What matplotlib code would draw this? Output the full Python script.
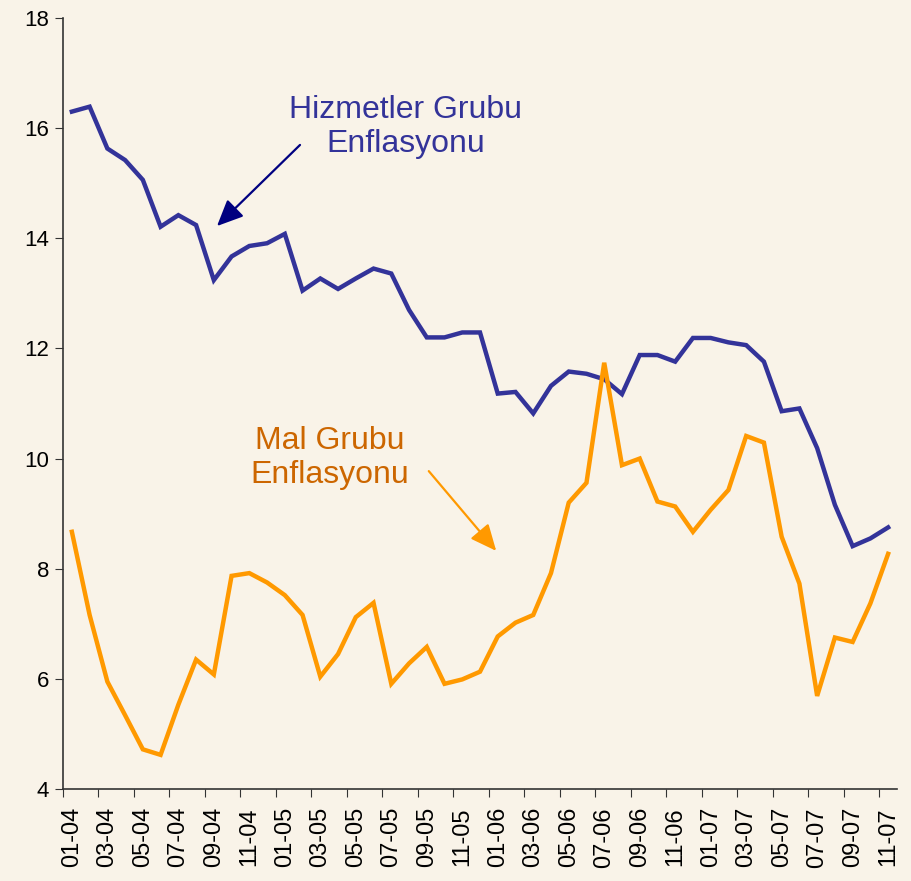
import matplotlib
matplotlib.use("Agg")
import matplotlib.pyplot as plt
import numpy as np

plt.rcParams['font.family'] = ['Liberation Sans', 'DejaVu Sans']

months = [f"{m:02d}-{y:02d}" for y in (4, 5, 6, 7) for m in range(1, 13)][:47]

hizmet = [16.30, 16.39, 15.63, 15.42, 15.06, 14.21, 14.42, 14.24, 13.24, 13.67,
          13.86, 13.91, 14.08, 13.05, 13.27, 13.08, 13.27, 13.45, 13.36, 12.70,
          12.20, 12.20, 12.29, 12.29, 11.18, 11.21, 10.82, 11.32, 11.58, 11.54,
          11.44, 11.17, 11.88, 11.88, 11.76, 12.19, 12.19, 12.11, 12.06, 11.76,
          10.86, 10.91, 10.19, 9.16, 8.41, 8.55, 8.75]

mal = [8.67, 7.16, 5.95, 5.34, 4.72, 4.62, 5.53, 6.35, 6.08, 7.87,
       7.92, 7.75, 7.52, 7.16, 6.04, 6.45, 7.12, 7.38, 5.91, 6.28,
       6.58, 5.91, 5.99, 6.13, 6.77, 7.02, 7.16, 7.92, 9.20, 9.56,
       11.74, 9.88, 10.00, 9.22, 9.13, 8.67, 9.07, 9.43, 10.41, 10.29,
       8.58, 7.73, 5.69, 6.75, 6.67, 7.37, 8.27]

yticks = [4, 6, 8, 10, 12, 14, 16, 18]

bg = '#F9F3E8'
fig = plt.figure(figsize=(9.12, 8.81), dpi=100, facecolor=bg)
ax = fig.add_axes([63/912, 1-789/881, (897-63)/912, (789-18)/881])
ax.set_facecolor(bg)

x = np.arange(len(months))
ax.plot(x, hizmet, color='#333399', lw=3.2, solid_joinstyle='miter')
ax.plot(x, mal, color='#FF9900', lw=3.2, solid_joinstyle='miter')

ax.set_xlim(-0.5, len(months) - 0.5)
ax.set_ylim(4, 18)
ax.set_yticks(yticks)
ax.set_yticklabels([str(v) for v in yticks], fontsize=16)

ax.set_xticks(np.arange(-0.5, len(months), 2))
ax.set_xticklabels([])
ax.set_xticks(x[::2], minor=True)
ax.set_xticklabels(months[::2], minor=True, rotation=90, fontsize=17)
ax.tick_params(axis='x', which='major', length=6, direction='out', color='#333333')
ax.tick_params(axis='x', which='minor', length=0, pad=13)
ax.tick_params(axis='y', length=6, direction='out', color='#333333', pad=4)

for s in ('top', 'right'):
    ax.spines[s].set_visible(False)
for s in ('left', 'bottom'):
    ax.spines[s].set_color('#333333')
    ax.spines[s].set_linewidth(1.2)

ax.annotate('', xy=(215, 881-228), xycoords='figure pixels',
            xytext=(302, 881-143), textcoords='figure pixels',
            arrowprops=dict(arrowstyle='-|>,head_length=0.8,head_width=0.36',
                            mutation_scale=20, color='#000080', lw=1.6))
fig.text(406/912, 1-127/881, 'Hizmetler Grubu\nEnflasyonu', color='#333399',
         fontsize=23, ha='center', va='center', linespacing=1.15)

ax.annotate('', xy=(498, 881-553), xycoords='figure pixels',
            xytext=(427, 881-469), textcoords='figure pixels',
            arrowprops=dict(arrowstyle='-|>,head_length=0.8,head_width=0.36',
                            mutation_scale=20, color='#FF9900', lw=1.6))
fig.text(330/912, 1-458/881, 'Mal Grubu\nEnflasyonu', color='#CC6600',
         fontsize=23, ha='center', va='center', linespacing=1.15)

fig.savefig('out.png', dpi=100, facecolor=bg)
